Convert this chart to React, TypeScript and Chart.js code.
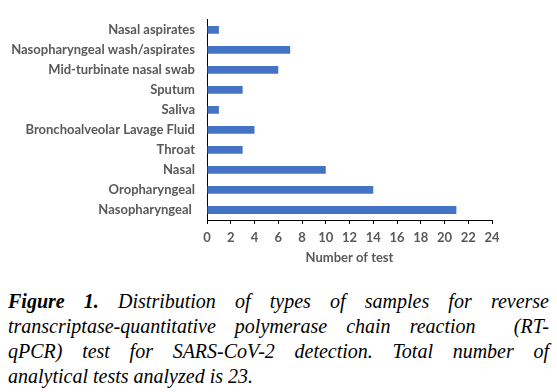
import React, { useEffect, useRef } from "react";
import { Chart, registerables } from "chart.js";

Chart.register(...registerables);

const categories = [
  "Nasal aspirates",
  "Nasopharyngeal wash/aspirates",
  "Mid-turbinate nasal swab",
  "Sputum",
  "Saliva",
  "Bronchoalveolar Lavage Fluid",
  "Throat",
  "Nasal",
  "Oropharyngeal",
  "Nasopharyngeal ",
];
const values = [1, 7, 6, 3, 1, 4, 3, 10, 14, 21];
const xMin = 0;
const xMax = 24;
const xStep = 2;
const xTitle = "Number of test";

const captionLines = [
  "Distribution of types of samples for reverse",
  "transcriptase-quantitative polymerase chain reaction\u00a0 (RT-",
  "qPCR) test for SARS-CoV-2 detection. Total number of",
  "analytical tests analyzed is 23.",
];

const FONT = "Lato, 'Open Sans', sans-serif";

export default function App() {
  const ref = useRef<HTMLCanvasElement | null>(null);
  useEffect(() => {
    document.body.style.margin = "0";
    const ctx = ref.current!;
    const chart = new Chart(ctx, {
      type: "bar",
      data: {
        labels: categories,
        datasets: [
          {
            data: values,
            backgroundColor: "#4472C4",
            categoryPercentage: 1,
            barPercentage: 0.39,
          },
        ],
      },
      options: {
        indexAxis: "y",
        animation: false,
        responsive: false,
        maintainAspectRatio: false,
        layout: { padding: { top: 13, right: 65, left: 0, bottom: 0 } },
        plugins: { legend: { display: false }, tooltip: { enabled: false } },
        scales: {
          y: {
            grid: { display: false, drawTicks: false },
            border: { display: true, color: "#000", width: 1 },
            ticks: {
              color: "#595959",
              padding: 12,
              font: { family: FONT, size: 13, weight: "bold" },
            },
            afterFit: (s: any) => {
              s.width = 207;
            },
          },
          x: {
            min: xMin,
            max: xMax,
            grid: {
              display: true,
              drawOnChartArea: false,
              drawTicks: true,
              tickLength: 4,
              color: "#000",
            },
            border: { display: true, color: "#000", width: 1 },
            ticks: {
              stepSize: xStep,
              color: "#595959",
              padding: 6,
              maxRotation: 0,
              font: { family: FONT, size: 13, weight: "bold" },
            },
            title: {
              display: true,
              text: xTitle,
              color: "#595959",
              font: { family: FONT, size: 13, weight: "bold" },
              padding: { top: 4, bottom: 9 },
            },
            afterFit: (s: any) => {
              s.height = 55;
            },
          },
        },
      },
    });
    return () => chart.destroy();
  }, []);

  const lineStyle = (last: boolean): React.CSSProperties => ({
    textAlign: last ? "left" : "justify",
    textAlignLast: last ? "left" : "justify",
    whiteSpace: "nowrap",
    height: 25,
  });

  return (
    <div style={{ position: "relative", width: 557, height: 392, background: "#fff" }}>
      <canvas ref={ref} width={557} height={275} style={{ position: "absolute", left: 0, top: 0, width: 557, height: 275 }} />
      <div
        style={{
          position: "absolute",
          left: 8,
          top: 289,
          width: 541,
          fontFamily: "'Liberation Serif', 'Times New Roman', serif",
          fontStyle: "italic",
          fontSize: 20,
          lineHeight: "25px",
          color: "#000",
        }}
      >
        {captionLines.map((t, i) => (
          <div key={i} style={{ ...lineStyle(i === captionLines.length - 1), whiteSpace: "normal" }}>
            {i === 0 ? (
              <>
                <b>Figure 1.</b> {t}
              </>
            ) : (
              t
            )}
          </div>
        ))}
      </div>
    </div>
  );
}
